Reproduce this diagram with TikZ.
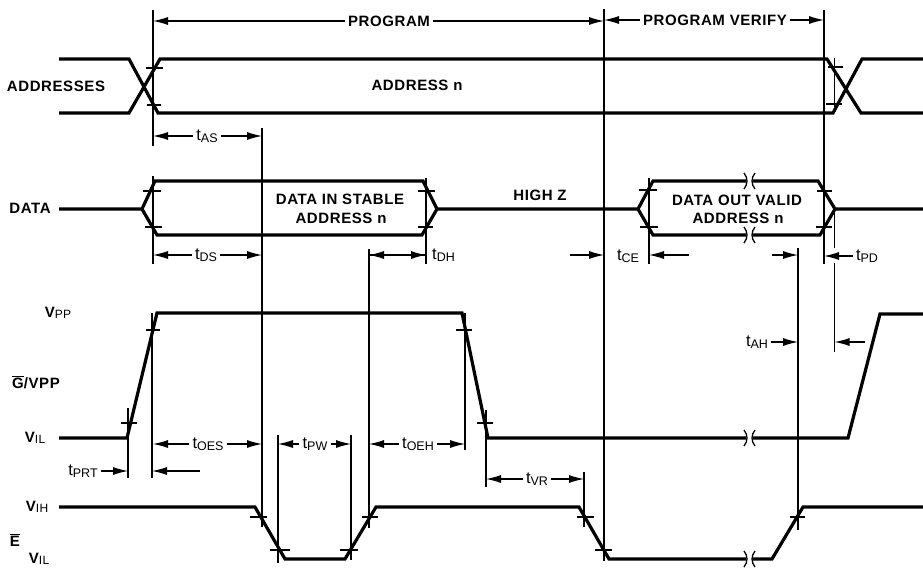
\documentclass[tikz,border=0pt]{standalone}
\usepackage{fontspec}
\setmainfont{Liberation Sans}
\usetikzlibrary{arrows.meta}

\tikzset{
	wave/.style={line width=3.2pt, line join=miter},
	vline/.style={line width=1.3pt},
	tickline/.style={line width=1.4pt},
	dimline/.style={line width=1.1pt, -{Latex[length=15pt,width=8pt]}},
	siglabel/.style={font=\fontsize{15}{17}\selectfont\addfontfeature{LetterSpace=4}\bfseries, inner sep=3pt},
	timelabel/.style={font=\fontsize{16.5}{18}\selectfont, inner sep=3pt}
}

\newcommand{\tsub}[1]{t\raisebox{-1.5pt}{\fontsize{12.5}{13}\selectfont #1}}
\newcommand{\vsub}[1]{V\raisebox{-0.5pt}{\fontsize{12}{13}\selectfont\mdseries #1}}

% both arrows leave a label: name, left end, right end, height, label x, text
\newcommand{\spanlabel}[7]{
	\coordinate (#1 a) at (#2, #4);
	\coordinate (#1 b) at (#3, #4);
	\node[#7] (#1) at (#5, #4) {#6};
	\draw[dimline] (#1) -- (#1 a);
	\draw[dimline] (#1) -- (#1 b);
}
% lone arrow between two named ends
\newcommand{\pointer}[4]{
	\coordinate (#1 a) at (#2, #4);
	\coordinate (#1 b) at (#3, #4);
	\draw[dimline] (#1 a) -- (#1 b);
}
% label with one arrow
\newcommand{\taillabel}[5]{
	\coordinate (#1 b) at (#3, #4);
	\node[timelabel] (#1) at (#2, #4) {#5};
	\draw[dimline] (#1) -- (#1 b);
}
\newcommand{\pmark}[3]{
	\draw[tickline] (#1, #3) -- (#2, #3);
}
\newcommand{\pbreak}[2]{
	\fill[white] (#1+1, #2-3) rectangle (#1+8, #2+3);
	\draw[line width=1.3pt] (#1-1, #2-8) .. controls (#1+3, #2-3) and (#1+3, #2+3) .. (#1-1, #2+8);
	\draw[line width=1.3pt] (#1+10, #2-8) .. controls (#1+6, #2-3) and (#1+6, #2+3) .. (#1+10, #2+8);
}

\begin{document}
\begin{tikzpicture}[x=1pt, y=-1pt]
\useasboundingbox (0,0) rectangle (923,568);

\pgfmathsetmacro{\tmA}{153}
\pgfmathsetmacro{\tmB}{262}
\pgfmathsetmacro{\tmC}{369}
\pgfmathsetmacro{\tmD}{426}
\pgfmathsetmacro{\tmE}{604}
\pgfmathsetmacro{\tmF}{649}
\pgfmathsetmacro{\tmG}{798}
\pgfmathsetmacro{\tmH}{824}
\pgfmathsetmacro{\tmI}{834.5}

% addresses
\draw[wave] (59,59) -- (129,59) -- (158,113) -- (833,113) -- (862,59) -- (923,59);
\draw[wave] (59,113) -- (129,113) -- (160,59) -- (827,59) -- (861,113) -- (923,113);

% data
\draw[wave] (59,209) -- (142,209) -- (155,181) -- (423,181) -- (437,209) -- (638,209) -- (653,181) -- (818,181) -- (835,209) -- (923,209);
\draw[wave] (142,209) -- (157,235) -- (422,235) -- (437,209);
\draw[wave] (638,209) -- (653,235) -- (820,235) -- (835,209);
\pbreak{745}{181}
\pbreak{745}{235}

% G/VPP
\draw[wave] (59,438) -- (127,438) -- (157,313) -- (462,313) -- (488,438) -- (848,438) -- (880,314) -- (923,314);
\pbreak{745}{438}

% E
\draw[wave] (59,507) -- (255,507) -- (285,559) -- (345,559) -- (376,507) -- (579,507) -- (609,559) -- (772,559) -- (803,507) -- (923,507);
\pbreak{745}{559}

% time lines
\draw[vline] (\tmA,10) -- (\tmA,146);
\draw[vline] (\tmA,176) -- (\tmA,264);
\draw[vline] (\tmB,128) -- (\tmB,527);
\draw[vline] (\tmC,249) -- (\tmC,528);
\draw[vline] (\tmD,178) -- (\tmD,264);
\draw[vline] (\tmE,9) -- (\tmE,561);
\draw[vline] (\tmF,178) -- (\tmF,264);
\draw[vline] (\tmG,248) -- (\tmG,530);
\draw[vline] (\tmH,10) -- (\tmH,264);
\draw[vline] (\tmI,58) -- (\tmI,107);
\draw[vline] (\tmI,209) -- (\tmI,248);
\draw[vline] (\tmI,263) -- (\tmI,352);
\draw[vline] (128,408) -- (128,478);
\draw[vline] (152,313) -- (152,478);
\draw[vline] (465,313) -- (465,450);
\draw[vline] (486,410) -- (486,487);
\draw[vline] (278,435) -- (278,563);
\draw[vline] (351,435) -- (351,560);
\draw[vline] (584,472) -- (584,527);

% crossings
\pmark{146}{163}{68}
\pmark{147}{161}{105}
\pmark{828}{843}{67}
\pmark{826}{842}{104}
\pmark{143}{161}{191}
\pmark{145}{162}{227}
\pmark{418}{435}{191}
\pmark{418}{433}{227}
\pmark{639}{657}{190}
\pmark{640}{658}{227}
\pmark{817}{832}{191}
\pmark{816}{832}{227}
\pmark{146}{160}{330}
\pmark{121}{137}{423}
\pmark{456}{472}{330}
\pmark{477}{493}{423}
\pmark{250}{267}{517}
\pmark{270}{290}{550}
\pmark{340}{358}{550}
\pmark{362}{378}{517}
\pmark{577}{594}{517}
\pmark{595}{612}{550}
\pmark{790}{805}{517}

% phases
\spanlabel{program}{\tmA}{\tmE}{21}{389}{PROGRAM}{siglabel}
\spanlabel{verify}{\tmE}{\tmH}{20}{715}{PROGRAM VERIFY}{siglabel}

% timing
\spanlabel{tas}{\tmA}{\tmB}{136}{207}{\tsub{AS}}{timelabel}
\spanlabel{tds}{\tmA}{\tmB}{255}{206}{\tsub{DS}}{timelabel}
\spanlabel{toes}{\tmA}{\tmB}{444}{208}{\tsub{OES}}{timelabel}
\spanlabel{tpw}{278}{351}{444}{315}{\tsub{PW}}{timelabel}
\spanlabel{toeh}{\tmC}{465}{444}{418}{\tsub{OEH}}{timelabel}
\spanlabel{tvr}{486}{584}{479}{537}{\tsub{VR}}{timelabel}
\pointer{dh}{\tmC}{\tmD}{255}
\pointer{dh back}{\tmD}{\tmC}{255}
\node[timelabel, right] (tdh) at (429,255) {\tsub{DH}};
\pointer{ce in}{570}{\tmE}{255}
\node[timelabel] (tce) at (628,256) {\tsub{CE}};
\pointer{ce out}{689}{\tmF}{255}
\pointer{oe in}{772}{\tmG}{255}
\taillabel{tpd}{867}{\tmH}{256}{\tsub{PD}}
\taillabel{tah}{757}{\tmG}{342}{\tsub{AH}}
\pointer{ah out}{865}{\tmI}{342}
\taillabel{tprt}{83}{128}{471}{\tsub{PRT}}
\pointer{prt out}{200}{152}{471}

% texts
\node[siglabel] (addresses) at (56,86) {ADDRESSES};
\node[siglabel] (addressn) at (417,85) {ADDRESS n};
\node[siglabel] (data) at (30,208) {DATA};
\node[siglabel] (datain) at (340,199) {DATA IN STABLE};
\node[siglabel] (addressin) at (341,218) {ADDRESS n};
\node[siglabel] (highz) at (540,195) {HIGH Z};
\node[siglabel] (dataout) at (737,200) {DATA OUT VALID};
\node[siglabel] (addressout) at (738,218) {ADDRESS n};
\node[siglabel] (vpp) at (58,313) {\vsub{PP}};
\node[siglabel] (gvpp) at (36,382) {$\overline{\mbox{G}}$/VPP};
\node[siglabel] (vilg) at (35,438) {\vsub{IL}};
\node[siglabel] (vih) at (37,507) {\vsub{IH}};
\node[siglabel] (ebar) at (15,540) {$\overline{\mbox{E}}$};
\node[siglabel] (vile) at (39,559) {\vsub{IL}};
\end{tikzpicture}
\end{document}
